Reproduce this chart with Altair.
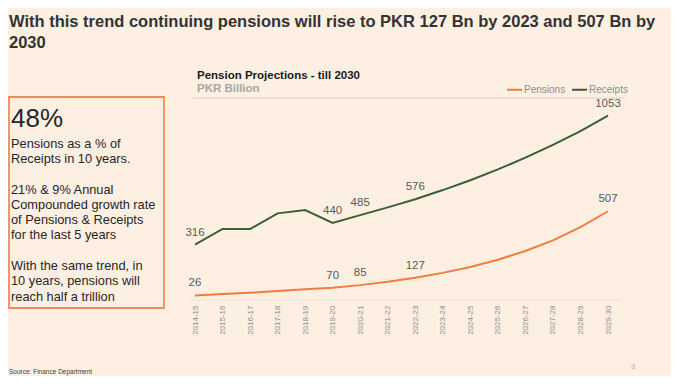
import altair as alt
import pandas as pd

# ---------------- data ----------------
years = ["2014-15", "2015-16", "2016-17", "2017-18", "2018-19", "2019-20",
         "2020-21", "2021-22", "2022-23", "2023-24", "2024-25", "2025-26",
         "2026-27", "2027-28", "2028-29", "2029-30"]
pensions = [26, 34, 41, 51, 62, 70, 85, 104, 127, 155, 189, 230, 280, 341, 416, 507]
receipts = [316, 406, 405, 495, 514, 440, 485, 529, 576, 628, 684, 746, 813, 886, 965, 1053]
labeled_years = ["2014-15", "2019-20", "2020-21", "2022-23", "2029-30"]
series = ["Pensions", "Receipts"]
colors = ["#EE7D3F", "#3B5F35"]

title_lines = ["With this trend continuing pensions will rise to PKR 127 Bn by 2023 and 507 Bn by",
               "2030"]
chart_title = "Pension Projections - till 2030"
chart_subtitle = "PKR Billion"
box_big = "48%"
box_para1 = ["Pensions as a % of", "Receipts in 10 years."]
box_para2 = ["21% & 9% Annual", "Compounded growth rate", "of Pensions & Receipts",
             "for the last 5 years"]
box_para3 = ["With the same trend, in", "10 years, pensions will", "reach half a trillion"]
source_text = "Source: Finance Department"
page_no = "8"

rows = []
for i, y in enumerate(years):
    rows.append({"year": y, "series": "Pensions", "value": pensions[i]})
    rows.append({"year": y, "series": "Receipts", "value": receipts[i]})
df = pd.DataFrame(rows)

FONT = "Liberation Sans, Arial, sans-serif"
W, H = 430, 202
LH = 15.3

x_enc = alt.X("year:N", sort=years,
              scale=alt.Scale(type="point", range=[5, 418], padding=0),
              axis=alt.Axis(title=None, ticks=False, domain=False, grid=False,
                            labelAngle=-90, labelFontSize=8, labelFont=FONT,
                            labelColor="#8c8c8c", labelPadding=5))
y_enc = alt.Y("value:Q", scale=alt.Scale(domain=[0, 1154], nice=False, zero=True), axis=None)

base = alt.Chart(df)

lines = base.mark_line(strokeWidth=2).encode(
    x=x_enc, y=y_enc,
    color=alt.Color("series:N", scale=alt.Scale(domain=series, range=colors),
                    legend=alt.Legend(title=None, orient="none", legendX=316, legendY=-17,
                                      direction="horizontal", symbolType="stroke",
                                      symbolStrokeWidth=2, symbolSize=225,
                                      labelFontSize=10, labelFont=FONT,
                                      labelColor="#8c8c8c", labelOffset=1,
                                      columnPadding=2)))

labels = base.transform_filter(
    alt.FieldOneOfPredicate(field="year", oneOf=labeled_years)
).mark_text(dy=-12, fontSize=11.5, font=FONT, color="#595959", baseline="middle").encode(
    x=x_enc, y=y_enc, text="value:Q")

one = pd.DataFrame({"a": [0]})

top_rule = alt.Chart(one).mark_rule(color="#d8d0c4", strokeWidth=1).encode(
    x=alt.value(3), x2=alt.value(435), y=alt.value(0))
base_rule = alt.Chart(one).mark_rule(color="#ebe0d2", strokeWidth=1).encode(
    x=alt.value(0), x2=alt.value(W), y=alt.value(H))

main_title = alt.Chart(one).mark_text(align="left", baseline="alphabetic", fontSize=16.5,
                                      fontWeight="bold", font=FONT, color="#333333",
                                      lineHeight=20.5).encode(
    x=alt.value(-181), y=alt.value(-71), text=alt.value(title_lines))

ct = alt.Chart(one).mark_text(align="left", baseline="alphabetic", fontSize=11.5,
                              fontWeight="bold", font=FONT, color="#1a1a1a").encode(
    x=alt.value(7), y=alt.value(-19), text=alt.value(chart_title))
cst = alt.Chart(one).mark_text(align="left", baseline="alphabetic", fontSize=11.5,
                               fontWeight="bold", font=FONT, color="#a6a6a6").encode(
    x=alt.value(7), y=alt.value(-5.7), text=alt.value(chart_subtitle))

box = alt.Chart(one).mark_rect(fillOpacity=0, stroke="#F08A5A", strokeWidth=1.8).encode(
    x=alt.value(-181), x2=alt.value(-26), y=alt.value(-1), y2=alt.value(210))
big = alt.Chart(one).mark_text(align="left", baseline="alphabetic", fontSize=26,
                               font=FONT, color="#262626").encode(
    x=alt.value(-179), y=alt.value(28.7), text=alt.value(box_big))


def para(lines_, y0):
    return alt.Chart(one).mark_text(align="left", baseline="alphabetic", fontSize=12.8,
                                    font=FONT, color="#262626", lineHeight=LH).encode(
        x=alt.value(-179), y=alt.value(y0), text=alt.value(lines_))


p1 = para(box_para1, 49.6)
p2 = para(box_para2, 49.6 + 3 * LH)
p3 = para(box_para3, 49.6 + 8 * LH)

src = alt.Chart(one).mark_text(align="left", baseline="alphabetic", fontSize=6.5,
                               font=FONT, color="#404040").encode(
    x=alt.value(-181), y=alt.value(276), text=alt.value(source_text))
pg = alt.Chart(one).mark_text(align="left", baseline="alphabetic", fontSize=8,
                              font=FONT, color="#b5b5b5").encode(
    x=alt.value(441), y=alt.value(271), text=alt.value(page_no))

chart = alt.layer(
    top_rule, base_rule, lines, labels, main_title, ct, cst, box, big, p1, p2, p3, src, pg
).properties(
    width=W, height=H,
    padding={"left": 182, "top": 90, "right": 51, "bottom": 76},
    autosize=alt.AutoSizeParams(type="none"),
).configure(background="#FDF0E2").configure_view(stroke=None)

chart.save("out.html", embed_options={"renderer": "svg", "actions": False})
